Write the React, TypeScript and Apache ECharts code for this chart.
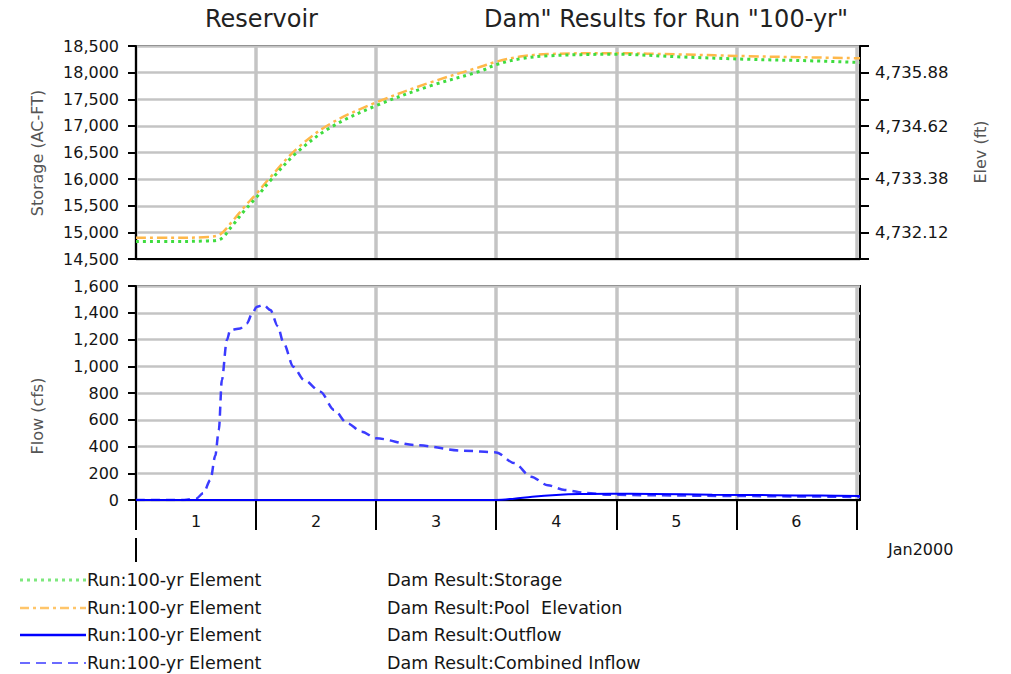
import React, { useEffect, useRef } from "react";
import * as echarts from "echarts";

const FONT = "DejaVu Sans";
const TEXT = "#151515";
const NAME = "#555555";
const GRIDLINE = "#c4c4c4";

// [day, AC-FT]
const storageSeries: [number, number][] = [
  [0, 14830], [0.3, 14830], [0.6, 14840], [0.7, 14870], [0.8, 15120],
  [0.9, 15400], [1.0, 15650], [1.12, 15975], [1.34, 16500], [1.62, 16970],
  [2.0, 17380], [2.45, 17750], [2.87, 18030], [3.0, 18150], [3.2, 18260],
  [3.43, 18315], [3.98, 18345], [4.54, 18295], [5.1, 18250], [5.65, 18220],
  [6.03, 18190],
];

// [day, ft]
const poolElevationSeries: [number, number][] = [
  [0, 4731.99], [0.3, 4731.99], [0.6, 4732.01], [0.7, 4732.07], [0.8, 4732.37],
  [0.9, 4732.71], [1.0, 4733.02], [1.12, 4733.42], [1.34, 4734.09], [1.62, 4734.68],
  [2.0, 4735.18], [2.45, 4735.65], [2.87, 4736.02], [3.0, 4736.14], [3.2, 4736.26],
  [3.43, 4736.32], [3.98, 4736.34], [4.54, 4736.31], [5.1, 4736.27], [5.65, 4736.24],
  [6.03, 4736.22],
];

// [day, cfs]
const outflowSeries: [number, number][] = [
  [0, 0], [3.0, 0], [3.15, 10], [3.3, 25], [3.5, 38], [3.7, 45], [3.95, 47],
  [4.3, 45], [4.8, 40], [5.3, 36], [5.7, 33], [6.03, 30],
];

// [day, cfs]
const inflowSeries: [number, number][] = [
  [0, 0], [0.4, 0], [0.5, 10], [0.56, 50], [0.62, 150], [0.66, 330], [0.69, 523],
  [0.715, 897], [0.757, 1196], [0.785, 1271], [0.868, 1283], [0.924, 1321],
  [0.97, 1400], [1.007, 1445], [1.063, 1458], [1.12, 1420], [1.18, 1300],
  [1.23, 1172], [1.31, 997], [1.4, 897], [1.536, 810], [1.65, 673], [1.76, 573],
  [1.88, 510], [2.0, 461], [2.32, 411], [2.73, 369], [3.0, 356], [3.15, 276],
  [3.29, 174], [3.43, 110], [3.57, 75], [3.75, 52], [3.93, 40], [4.3, 35],
  [5.0, 30], [5.5, 27], [6.03, 22],
];

const dayBoundaries = [0, 1, 2, 3, 4, 5, 6];
const dayLabelPositions = [0.5, 1.5, 2.5, 3.5, 4.5, 5.5];
const dayLabels = ["1", "2", "3", "4", "5", "6"];
const elevTicks = [4731.49, 4732.12, 4732.75, 4733.38, 4734.0, 4734.62, 4735.25, 4735.88, 4736.51];
const elevLabels = [4732.12, 4733.38, 4734.62, 4735.88];

const legendRows = [
  { run: "Run:100-yr Element", result: "Dam Result:Storage", color: "#7ee87e", width: 3, dash: [3, 4] },
  { run: "Run:100-yr Element", result: "Dam Result:Pool  Elevation", color: "#ffc56a", width: 2.5, dash: [9, 4, 3, 4] },
  { run: "Run:100-yr Element", result: "Dam Result:Outflow", color: "#0000ff", width: 2.5, dash: null },
  { run: "Run:100-yr Element", result: "Dam Result:Combined Inflow", color: "#6b6bff", width: 2, dash: [10, 6] },
];

const GRID_LEFT = 136;
const GRID_WIDTH = 724;
const X_MAX = 6.03;

const fmtInt = (v: number) => Math.round(v).toLocaleString("en-US");
const fmt2 = (v: number) =>
  v.toLocaleString("en-US", { minimumFractionDigits: 2, maximumFractionDigits: 2 });

export default function App() {
  const ref = useRef<HTMLDivElement>(null);

  useEffect(() => {
    document.body.style.margin = "0";
    const chart = echarts.init(ref.current!, null, { renderer: "svg" });

    const labelStyle = { fontFamily: FONT, fontSize: 16, color: TEXT };
    const blackLine = { color: "#000", width: 2 };

    const xBase = {
      type: "value" as const,
      min: 0,
      max: X_MAX,
      interval: 1,
      axisLine: { show: true, onZero: false, lineStyle: blackLine },
      splitLine: { show: true, lineStyle: { color: GRIDLINE, width: 3.5 } },
    };

    const legendGraphics: any[] = [];
    const rowY = [580, 608, 635, 663];
    legendRows.forEach((r, i) => {
      const y = rowY[i];
      legendGraphics.push({
        type: "line",
        shape: { x1: 20, y1: y, x2: 86, y2: y },
        style: { stroke: r.color, lineWidth: r.width, lineDash: r.dash || undefined },
      });
      legendGraphics.push({
        type: "text",
        x: 87,
        y,
        style: { text: r.run, fontFamily: FONT, fontSize: 17.5, fill: TEXT, textVerticalAlign: "middle" },
      });
      legendGraphics.push({
        type: "text",
        x: 387,
        y,
        style: { text: r.result, fontFamily: FONT, fontSize: 17.5, fill: TEXT, textVerticalAlign: "middle" },
      });
    });

    const curve = { showSymbol: false, smooth: 0.35 };

    chart.setOption({
      animation: false,
      backgroundColor: "#fff",
      grid: [
        { left: GRID_LEFT, width: GRID_WIDTH, top: 46, height: 213, show: true, borderColor: "#000", borderWidth: 2 },
        { left: GRID_LEFT, width: GRID_WIDTH, top: 286, height: 214, show: true, borderColor: "#000", borderWidth: 2 },
      ],
      xAxis: [
        {
          ...xBase,
          gridIndex: 0,
          axisTick: { show: false, customValues: dayBoundaries },
          axisLabel: { show: false },
        },
        {
          ...xBase,
          gridIndex: 1,
          axisTick: { show: true, customValues: dayBoundaries, length: 30, lineStyle: blackLine },
          axisLabel: {
            ...labelStyle,
            show: true,
            customValues: dayLabelPositions,
            margin: 13,
            formatter: (v: number) => dayLabels[dayLabelPositions.indexOf(v)] ?? "",
          },
        },
      ],
      yAxis: [
        {
          type: "value",
          gridIndex: 0,
          min: 14500,
          max: 18500,
          interval: 500,
          axisLine: { show: true, lineStyle: blackLine },
          axisTick: { show: true, length: 8, lineStyle: blackLine },
          axisLabel: { ...labelStyle, margin: 17, formatter: fmtInt },
          splitLine: { show: true, lineStyle: { color: GRIDLINE, width: 2.5 } },
        },
        {
          type: "value",
          gridIndex: 0,
          position: "right",
          min: elevTicks[0],
          max: elevTicks[elevTicks.length - 1],
          axisLine: { show: true, lineStyle: blackLine },
          axisTick: { show: true, length: 9, customValues: elevTicks, lineStyle: blackLine },
          axisLabel: { ...labelStyle, fontSize: 16.5, margin: 15, customValues: elevLabels, formatter: fmt2 },
          splitLine: { show: false },
        },
        {
          type: "value",
          gridIndex: 1,
          min: 0,
          max: 1600,
          interval: 200,
          axisLine: { show: true, lineStyle: blackLine },
          axisTick: { show: true, length: 8, lineStyle: blackLine },
          axisLabel: { ...labelStyle, margin: 17, formatter: fmtInt },
          splitLine: { show: true, lineStyle: { color: GRIDLINE, width: 2.5 } },
        },
      ],
      series: [
        {
          name: "Dam Result:Storage",
          type: "line",
          xAxisIndex: 0,
          yAxisIndex: 0,
          data: storageSeries,
          ...curve,
          lineStyle: { color: "#3fdc3f", width: 3, type: [3, 4] },
          z: 3,
        },
        {
          name: "Dam Result:Pool Elevation",
          type: "line",
          xAxisIndex: 0,
          yAxisIndex: 1,
          data: poolElevationSeries,
          ...curve,
          lineStyle: { color: "#ffb84a", width: 2.5, type: [10, 4, 3, 4] },
          z: 2,
        },
        {
          name: "Dam Result:Outflow",
          type: "line",
          xAxisIndex: 1,
          yAxisIndex: 2,
          data: outflowSeries,
          ...curve,
          lineStyle: { color: "#0000ff", width: 2 },
          z: 3,
        },
        {
          name: "Dam Result:Combined Inflow",
          type: "line",
          xAxisIndex: 1,
          yAxisIndex: 2,
          data: inflowSeries,
          showSymbol: false,
          smooth: 0.3,
          smoothMonotone: "x",
          lineStyle: { color: "#3b3bff", width: 2.5, type: [9, 6] },
          z: 2,
        },
      ],
      graphic: [
        {
          type: "text",
          x: 205,
          y: 19,
          style: { text: "Reservoir", fontFamily: FONT, fontSize: 24, fill: "#222", textVerticalAlign: "middle" },
        },
        {
          type: "text",
          x: 484,
          y: 19,
          style: {
            text: 'Dam" Results for Run "100-yr"',
            fontFamily: FONT,
            fontSize: 24,
            fill: "#222",
            textVerticalAlign: "middle",
          },
        },
        {
          type: "text",
          x: 37,
          y: 153,
          rotation: Math.PI / 2,
          style: { text: "Storage (AC-FT)", fontFamily: FONT, fontSize: 16, fill: NAME, textAlign: "center", textVerticalAlign: "middle" },
        },
        {
          type: "text",
          x: 37,
          y: 416,
          rotation: Math.PI / 2,
          style: { text: "Flow (cfs)", fontFamily: FONT, fontSize: 16, fill: NAME, textAlign: "center", textVerticalAlign: "middle" },
        },
        {
          type: "text",
          x: 980,
          y: 152,
          rotation: Math.PI / 2,
          style: { text: "Elev (ft)", fontFamily: FONT, fontSize: 16, fill: NAME, textAlign: "center", textVerticalAlign: "middle" },
        },
        {
          type: "line",
          shape: { x1: GRID_LEFT, y1: 538, x2: GRID_LEFT, y2: 562 },
          style: { stroke: "#000", lineWidth: 2 },
        },
        {
          type: "text",
          x: 888,
          y: 549,
          style: { text: "Jan2000", fontFamily: FONT, fontSize: 16, fill: TEXT, textVerticalAlign: "middle" },
        },
        ...legendGraphics,
      ],
    });

    return () => chart.dispose();
  }, []);

  return <div ref={ref} style={{ width: 1011, height: 674 }} />;
}
